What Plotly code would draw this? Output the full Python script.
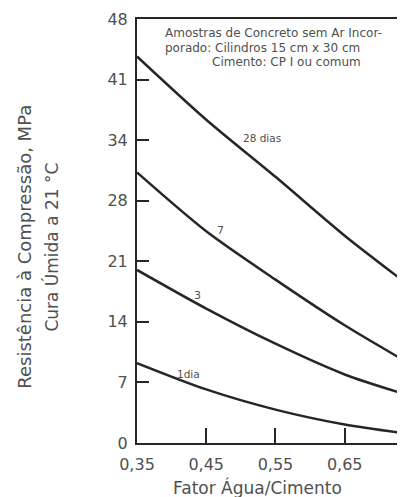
import plotly.graph_objects as go

# Data
wc = [0.35, 0.45, 0.55, 0.65, 0.727]
d28 = [44.0, 36.8, 30.3, 23.6, 18.9]
d7 = [30.8, 24.1, 18.6, 13.4, 9.8]
d3 = [19.7, 15.3, 11.3, 7.8, 5.8]
d1 = [9.1, 6.1, 3.8, 2.1, 1.2]

series_names = ["28 dias", "7", "3", "1dia"]

psi_ticks = [0, 1000, 2000, 3000, 4000, 5000, 6000, 7000]
y_tick_labels = ["0", "7", "14", "21", "28", "34", "41", "48"]
x_ticks = [0.35, 0.45, 0.55, 0.65]
x_tick_labels = ["0,35", "0,45", "0,55", "0,65"]

PSI_TO_MPA = 0.006895
y_tickvals = [p * PSI_TO_MPA for p in psi_ticks]

FONT = "DejaVu Sans, Verdana, sans-serif"
LINE = "#262626"
TXT = "#505050"

fig = go.Figure()
for name, ys in zip(series_names, [d28, d7, d3, d1]):
    fig.add_trace(go.Scatter(x=wc, y=ys, mode="lines", name=name,
                             line=dict(color=LINE, width=2.5, shape="spline", smoothing=0.8),
                             showlegend=False, hoverinfo="skip"))

# curve labels
labels = [("28 dias", 0.531, 34.7, 10.5), ("7", 0.47, 24.2, 11),
          ("3", 0.438, 16.8, 11), ("1dia", 0.424, 7.9, 10.5)]
for txt, lx, ly, fs in labels:
    fig.add_annotation(x=lx, y=ly, text=txt, showarrow=False,
                       font=dict(family=FONT, size=fs, color=TXT))

# box text
box_lines = [("Amostras de Concreto sem Ar Incor-", 0.10, 0.967),
             ("porado: Cilindros 15 cm x 30 cm", 0.10, 0.932),
             ("Cimento: CP I ou comum", 0.28, 0.899)]
for txt, px, py in box_lines:
    fig.add_annotation(x=px, y=py, xref="paper", yref="paper", text=txt,
                       showarrow=False, xanchor="left", yanchor="middle",
                       font=dict(family=FONT, size=12, color=TXT))

# y-axis title (two lines)
fig.add_annotation(x=-0.429, y=0.463, xref="paper", yref="paper",
                   text="Resistência à Compressão, MPa", textangle=-90,
                   showarrow=False, xanchor="center", yanchor="middle",
                   font=dict(family=FONT, size=18, color=TXT))
fig.add_annotation(x=-0.326, y=0.463, xref="paper", yref="paper",
                   text="Cura Úmida a 21 °C", textangle=-90,
                   showarrow=False, xanchor="center", yanchor="middle",
                   font=dict(family=FONT, size=17, color=TXT))

# x-axis title
fig.add_annotation(x=0.46, y=-0.106, xref="paper", yref="paper",
                   text="Fator Água/Cimento", showarrow=False,
                   xanchor="center", yanchor="middle",
                   font=dict(family=FONT, size=17, color=TXT))

# page body has an 8px default margin, so the figure is sized to fit the window
fig.update_layout(
    width=397, height=489,
    margin=dict(l=129, r=7, t=11, b=54),
    paper_bgcolor="white", plot_bgcolor="white",
    font=dict(family=FONT, color=TXT),
    xaxis=dict(range=[0.35, 0.727], tickvals=x_ticks, ticktext=x_tick_labels,
               ticks="inside", ticklen=15, tickwidth=1.5, tickcolor=LINE,
               showline=True, linecolor=LINE, linewidth=2, mirror=True,
               showgrid=False, zeroline=False, automargin=False,
               ticklabelstandoff=6,
               tickfont=dict(family=FONT, size=16, color=TXT)),
    yaxis=dict(range=[0, 7000 * PSI_TO_MPA], tickvals=y_tickvals, ticktext=y_tick_labels,
               ticks="inside", ticklen=12, tickwidth=1.5, tickcolor=LINE,
               showline=True, linecolor=LINE, linewidth=2, mirror=True,
               showgrid=False, zeroline=False, automargin=False,
               ticklabelstandoff=4,
               tickfont=dict(family=FONT, size=16, color=TXT)),
)

fig.write_html("out.html")
